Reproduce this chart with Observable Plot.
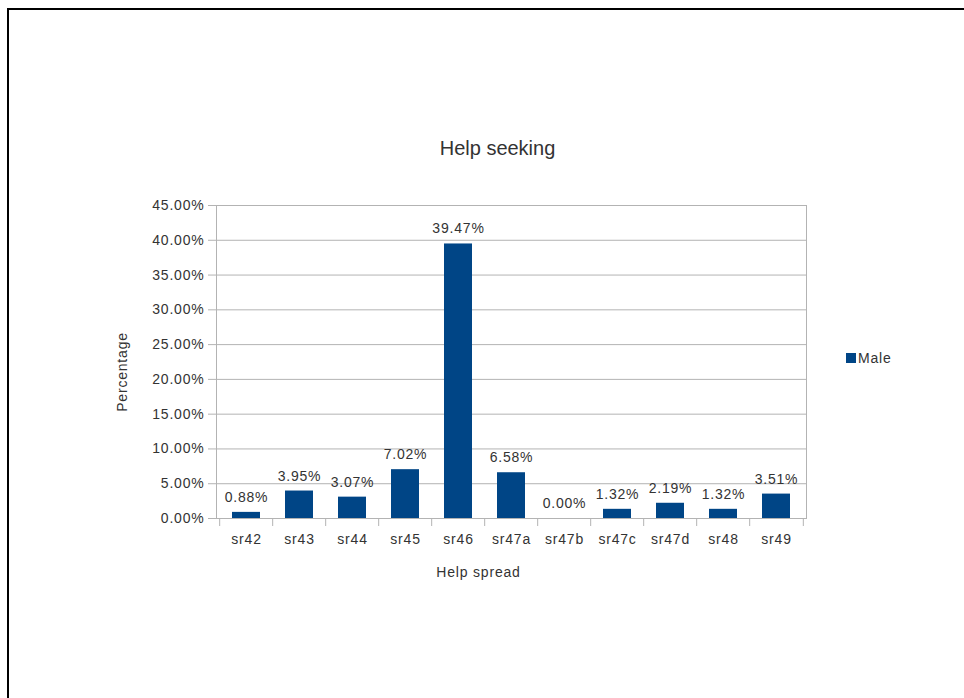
<!DOCTYPE html>
<html><head><meta charset="utf-8">
<script src="https://cdn.jsdelivr.net/npm/d3@7"></script>
<script src="https://cdn.jsdelivr.net/npm/@observablehq/plot@0.6"></script>
<style>
body{margin:0;background:#fff;}
#wrap{position:relative;width:964px;height:698px;overflow:hidden;background:#fff;}
#wrap svg{position:absolute;left:0;top:0;}
#wrap svg text{letter-spacing:0.8px;}
#frame{position:absolute;left:7px;top:8px;right:-10px;bottom:-10px;border-top:2px solid #000;border-left:2px solid #000;pointer-events:none;}
#legend{position:absolute;left:846px;top:350px;font:14px "Liberation Sans",Arial,sans-serif;letter-spacing:0.8px;color:#333;display:flex;align-items:center;gap:2px;}
#legend .sw{display:inline-block;width:10px;height:10px;}
</style></head><body>
<div id="wrap"><div id="frame"></div></div>
<script>
// ---- data ----
const categories = ["sr42","sr43","sr44","sr45","sr46","sr47a","sr47b","sr47c","sr47d","sr48","sr49"];
const values = [0.88, 3.95, 3.07, 7.02, 39.47, 6.58, 0.00, 1.32, 2.19, 1.32, 3.51];
const yTicks = [0, 5, 10, 15, 20, 25, 30, 35, 40, 45];
const seriesName = "Male";
const title = "Help seeking";
const xLabel = "Help spread";
const yLabel = "Percentage";

const barColor = "#004586";
const gridColor = "#b3b3b3";
const textColor = "#333";

const data = categories.map((c, i) => ({cat: c, value: values[i]}));

const W = 964, H = 698;
const mL = 216, mR = 158, mT = 205, mB = 180;
const step = (W - mL - mR) / categories.length;
const fmt = d => d.toFixed(2) + "%";

const chart = Plot.plot({
  width: W, height: H,
  marginLeft: mL, marginRight: mR, marginTop: mT, marginBottom: mB,
  style: {fontFamily: "'Liberation Sans', Arial, sans-serif", fontSize: "14px", color: textColor, background: "transparent"},
  x: {domain: categories, paddingInner: 0.48, paddingOuter: 0.24, label: null},
  y: {domain: [0, 45], label: null},
  marks: [
    Plot.ruleY(yTicks, {y: d => d, stroke: gridColor}),
    Plot.frame({stroke: gridColor, anchor: "right"}),
    Plot.frame({stroke: gridColor, anchor: "left"}),
    Plot.ruleX(categories, {x: d => d, dx: -step / 2, stroke: gridColor, insetTop: H - mT - mB, insetBottom: -8}),
    Plot.ruleX([categories[categories.length - 1]], {x: d => d, dx: step / 2, stroke: gridColor, insetTop: H - mT - mB, insetBottom: -8}),
    Plot.barY(data, {x: "cat", y: "value", fill: barColor}),
    Plot.axisY({ticks: yTicks, tickFormat: fmt, tickSize: 8, tickPadding: 4, stroke: gridColor, fill: textColor, fontSize: 14, label: null}),
    Plot.axisX({tickSize: 0, tickPadding: 16, fill: textColor, fontSize: 14, label: null}),
    Plot.text(data, {x: "cat", y: "value", text: d => fmt(d.value), dy: -15, fill: textColor, fontSize: 14}),
    Plot.text([title], {frameAnchor: "top", lineAnchor: "middle", text: d => d, dx: -14, dy: -57, fontSize: 20, fill: textColor}),
    Plot.text([xLabel], {frameAnchor: "bottom", lineAnchor: "middle", text: d => d, dx: -33, dy: 54, fontSize: 14, fill: textColor}),
    Plot.text([yLabel], {frameAnchor: "left", textAnchor: "middle", lineAnchor: "middle", text: d => d, dx: -94, dy: 10, rotate: -90, fontSize: 14, fill: textColor})
  ]
});
const wrap = document.getElementById("wrap");
wrap.insertBefore(chart, wrap.firstChild);
chart.querySelectorAll("text").forEach(t => { if (t.textContent === title) t.style.letterSpacing = "0px"; });

const legend = document.createElement("div");
legend.id = "legend";
const sw = document.createElement("span");
sw.className = "sw";
sw.style.background = barColor;
legend.appendChild(sw);
legend.appendChild(document.createTextNode(seriesName));
wrap.appendChild(legend);
</script>
</body></html>
